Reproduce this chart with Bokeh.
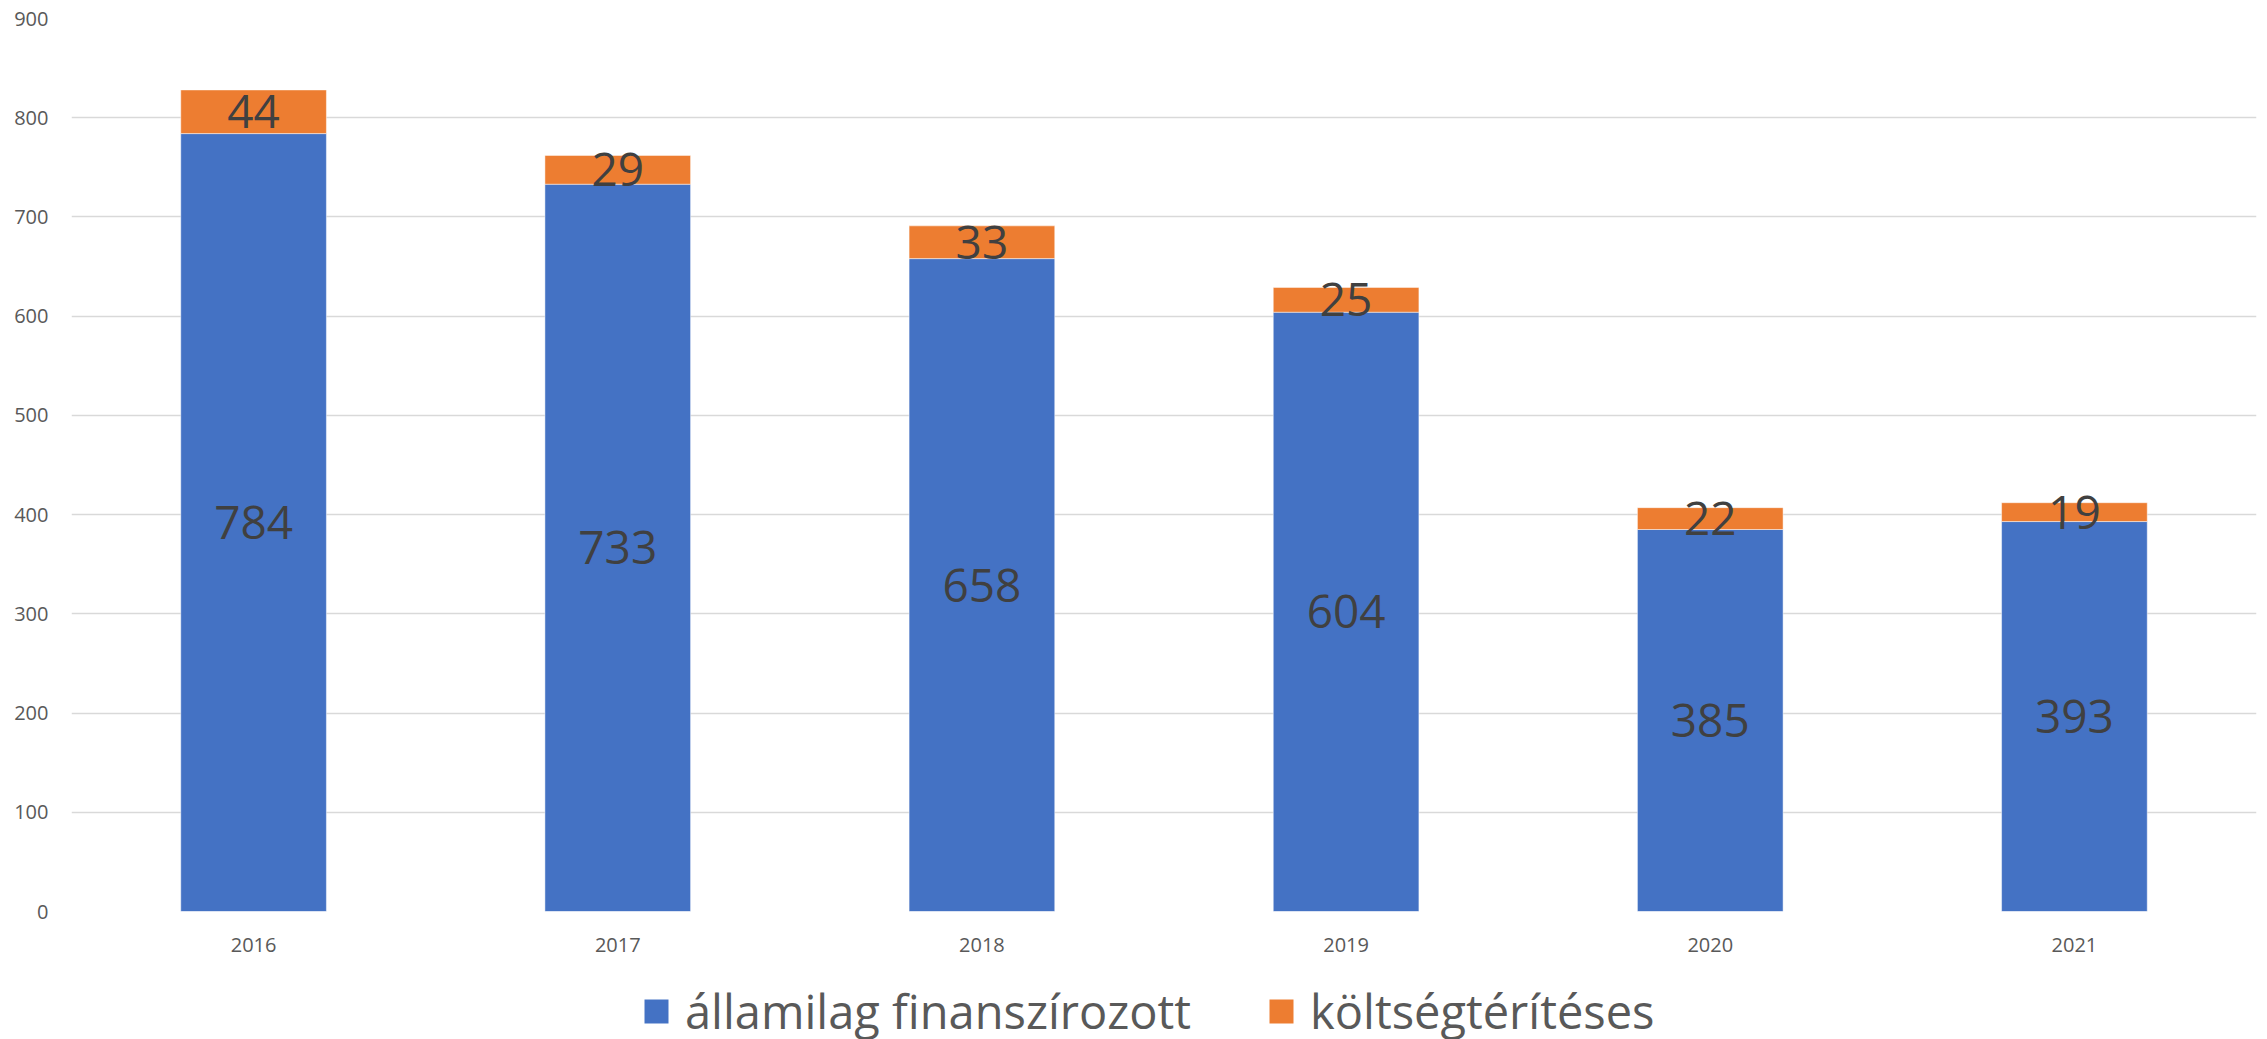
from bokeh.plotting import figure
from bokeh.layouts import column
from bokeh.models import ColumnDataSource, Legend, LegendItem, FixedTicker, Range1d
from bokeh.core.properties import value
from bokeh.embed import file_html
from bokeh.resources import INLINE

years = ["2016", "2017", "2018", "2019", "2020", "2021"]
allami = [784, 733, 658, 604, 385, 393]
koltseg = [44, 29, 33, 25, 22, 19]
series_names = ["államilag finanszírozott", "költségtérítéses"]
colors = ["#4472C4", "#ED7D31"]
y_ticks = [0, 100, 200, 300, 400, 500, 600, 700, 800, 900]

FONT = "Open Sans"

src = ColumnDataSource(dict(
    year=years,
    a=allami,
    k=koltseg,
    a_mid=[v / 2 for v in allami],
    k_mid=[a + k / 2 for a, k in zip(allami, koltseg)],
    a_lbl=[str(v) for v in allami],
    k_lbl=[str(v) for v in koltseg],
))

# main chart
p = figure(x_range=years, y_range=(0, 900), width=2267, height=965,
           output_backend="svg", toolbar_location=None,
           min_border_left=71, min_border_top=18, min_border_right=11,
           min_border_bottom=54)

r = p.vbar_stack(["a", "k"], x="year", width=0.4, color=colors, source=src,
                 line_color="white", line_width=0.8, line_alpha=0.6)

for ycol, tcol in (("a_mid", "a_lbl"), ("k_mid", "k_lbl")):
    p.text(x="year", y=ycol, text=tcol, source=src, text_align="center",
           text_baseline="middle", text_font=value(FONT), text_font_size="46px",
           text_color="#404040")

p.outline_line_color = None
p.xgrid.grid_line_color = None
p.ygrid.grid_line_color = "#D9D9D9"
p.ygrid.grid_line_width = 1.5
p.yaxis.ticker = FixedTicker(ticks=y_ticks)

for ax in (p.xaxis[0], p.yaxis[0]):
    ax.axis_line_color = None
    ax.major_tick_line_color = None
    ax.minor_tick_line_color = None
    ax.major_tick_out = 0
    ax.major_tick_in = 0
    ax.major_label_text_font = FONT
    ax.major_label_text_font_size = "20px"
    ax.major_label_text_color = "#595959"

p.yaxis.major_label_standoff = 23
p.xaxis.major_label_standoff = 26

# legend strip below the chart (same series; its bars lie outside this strip's view)
lf = figure(x_range=years, y_range=Range1d(5000, 6000), width=2267, height=74,
            output_backend="svg", toolbar_location=None,
            x_axis_location=None, y_axis_location=None,
            min_border_left=0, min_border_top=0, min_border_right=0,
            min_border_bottom=0)
lr = lf.vbar_stack(["a", "k"], x="year", width=0.4, color=colors, source=src,
                   line_color=None)
lf.grid.visible = False
lf.outline_line_color = None

legend = Legend(items=[LegendItem(label=series_names[i], renderers=[lr[i]]) for i in range(2)],
                orientation="horizontal", location=(570, -4),
                label_text_font=FONT, label_text_font_size="47px",
                label_text_color="#595959", glyph_width=30, glyph_height=30,
                label_standoff=14, spacing=75, margin=0, padding=0,
                border_line_color=None, background_fill_alpha=0)
lf.add_layout(legend, "center")

layout = column(p, lf, spacing=0)
open("out.html", "w").write(file_html(layout, INLINE))
